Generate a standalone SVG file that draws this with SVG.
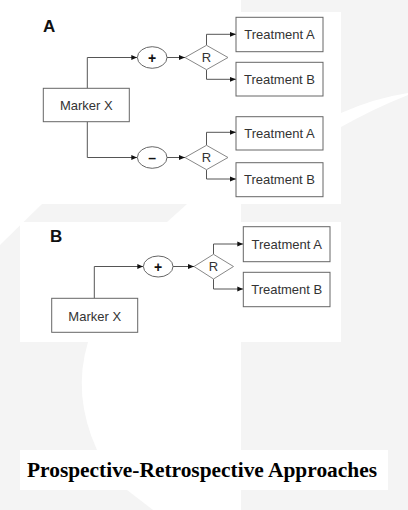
<svg xmlns="http://www.w3.org/2000/svg" width="408" height="510" viewBox="0 0 408 510">
<defs>
<style>
.box{fill:#fff;stroke:#666;stroke-width:1}
.ell{fill:#fff;stroke:#666;stroke-width:1}
.dia{fill:#fff;stroke:#888;stroke-width:1}
.txt{font-family:"Liberation Sans",Arial,sans-serif;font-size:13px;fill:#333;text-anchor:middle}
.sym{font-family:"Liberation Sans",Arial,sans-serif;font-size:14px;font-weight:bold;fill:#111;text-anchor:middle}
.lab{font-family:"Liberation Sans",Arial,sans-serif;font-size:17px;font-weight:bold;fill:#111}
.con{fill:none;stroke:#555;stroke-width:1;marker-end:url(#ah)}
.wm{fill:#fff}
</style>
<marker id="ah" viewBox="0 0 6 6" refX="6" refY="3" markerWidth="6" markerHeight="6" markerUnits="userSpaceOnUse" orient="auto">
<path d="M0,0.6 L6,3 L0,5.4 Z" fill="#111"/>
</marker>
</defs>
<g id="background">
<rect x="0" y="0" width="408" height="510" fill="#f4f4f4"/>
<rect class="wm" x="0" y="0" width="241" height="204"/>
<path class="wm" d="M0,204 L42,204 L0,245 Z"/>
<path class="wm" d="M187,204 L241,204 L241,222 L167,222 Z"/>
<path class="wm" d="M88,342 Q72,395 97,450 L241,450 L241,342 Z"/>
<path class="wm" d="M127,490 L241,490 L241,510 L153,510 Z"/>
<path class="wm" d="M341,113 Q375,98 408,93 L408,95 Q375,108 341,127 Z"/>
<rect class="wm" x="0" y="12" width="341" height="192"/>
<rect class="wm" x="20" y="222" width="321" height="120"/>
<rect class="wm" x="20" y="450" width="368" height="40"/>
</g>
<g id="connectors">
<path class="con" d="M87.3,88.3 V57.5 H137.3"/>
<path class="con" d="M167,57.5 H185"/>
<path class="con" d="M206.5,45.3 V34.3 H236"/>
<path class="con" d="M206.5,69.7 V79.3 H236"/>
<path class="con" d="M87.3,121.7 V157.5 H137.3"/>
<path class="con" d="M167,157.5 H185"/>
<path class="con" d="M206.5,145.3 V132.3 H236"/>
<path class="con" d="M206.5,169.7 V179 H236"/>
<path class="con" d="M94.3,298.3 V266.5 H143.3"/>
<path class="con" d="M173,266.5 H194"/>
<path class="con" d="M213.5,254.3 V244 H243.3"/>
<path class="con" d="M213.5,279 V289 H243.3"/>
</g>
<g id="labelA"><text class="lab" x="43" y="32">A</text></g>
<g id="markerA">
<rect class="box" x="43.3" y="88.3" width="86" height="33.4"/>
<text class="txt" x="86.3" y="110">Marker X</text>
</g>
<g id="plusA">
<ellipse class="ell" cx="152.2" cy="57.5" rx="14.8" ry="10.8"/>
<text class="sym" x="152.2" y="62.5">+</text>
</g>
<g id="randA1">
<path class="dia" d="M185,57.5 L206.5,45.3 L228,57.5 L206.5,69.7 Z"/>
<text class="txt" x="206.5" y="62">R</text>
</g>
<g id="treatA1">
<rect class="box" x="236" y="17.3" width="87" height="34.4"/>
<text class="txt" x="279.5" y="39.3">Treatment A</text>
</g>
<g id="treatB1">
<rect class="box" x="236" y="62.3" width="87" height="33.7"/>
<text class="txt" x="279.5" y="84.3">Treatment B</text>
</g>
<g id="minusA">
<ellipse class="ell" cx="152.2" cy="157.5" rx="14.8" ry="10.8"/>
<text class="sym" x="152.2" y="162.5">–</text>
</g>
<g id="randA2">
<path class="dia" d="M185,157.5 L206.5,145.3 L228,157.5 L206.5,169.7 Z"/>
<text class="txt" x="206.5" y="162">R</text>
</g>
<g id="treatA2">
<rect class="box" x="236" y="116.7" width="87" height="33.3"/>
<text class="txt" x="279.5" y="137.7">Treatment A</text>
</g>
<g id="treatB2">
<rect class="box" x="236" y="162.7" width="87" height="34"/>
<text class="txt" x="279.5" y="184.3">Treatment B</text>
</g>
<g id="labelB"><text class="lab" x="50" y="242">B</text></g>
<g id="markerB">
<rect class="box" x="51.7" y="298.3" width="86" height="34"/>
<text class="txt" x="94.7" y="320.7">Marker X</text>
</g>
<g id="plusB">
<ellipse class="ell" cx="158.2" cy="266.5" rx="14.8" ry="10.5"/>
<text class="sym" x="158.2" y="271.5">+</text>
</g>
<g id="randB">
<path class="dia" d="M194,266.5 L213.5,254.3 L233.5,266.5 L213.5,279 Z"/>
<text class="txt" x="213.5" y="271">R</text>
</g>
<g id="treatA3">
<rect class="box" x="243.3" y="226.7" width="86.7" height="35"/>
<text class="txt" x="286.7" y="249.3">Treatment A</text>
</g>
<g id="treatB3">
<rect class="box" x="243.3" y="272.3" width="86.7" height="34.4"/>
<text class="txt" x="286.7" y="294.3">Treatment B</text>
</g>
<g id="title">
<text x="27" y="477" font-family="'Liberation Serif','Times New Roman',serif" font-size="21.5" font-weight="bold" fill="#000" textLength="350" lengthAdjust="spacingAndGlyphs">Prospective-Retrospective Approaches</text>
</g>
</svg>
